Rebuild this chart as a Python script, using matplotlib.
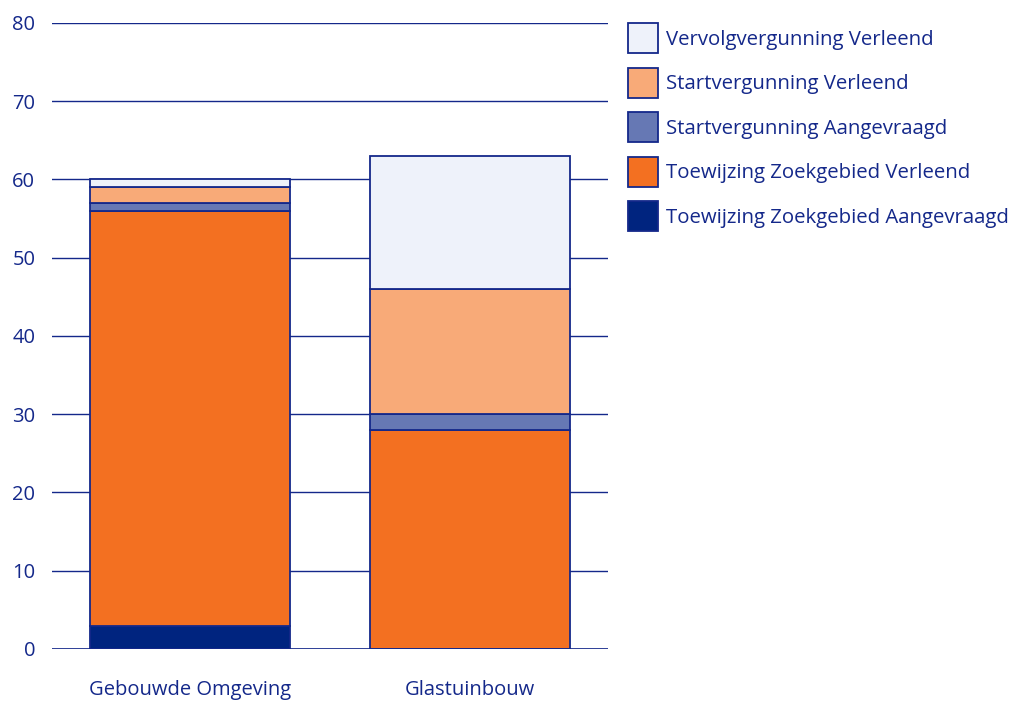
import numpy as np
import matplotlib.pyplot as plt

plt.rcParams['font.family'] = ['Open Sans', 'DejaVu Sans']

categories = ['Gebouwde Omgeving', 'Glastuinbouw']
series = ['Toewijzing Zoekgebied Aangevraagd', 'Toewijzing Zoekgebied Verleend',
          'Startvergunning Aangevraagd', 'Startvergunning Verleend',
          'Vervolgvergunning Verleend']
tz_aangevraagd = [3, 0]
tz_verleend = [53, 28]
sv_aangevraagd = [1, 2]
sv_verleend = [2, 16]
vv_verleend = [1, 17]
values = [tz_aangevraagd, tz_verleend, sv_aangevraagd, sv_verleend, vv_verleend]
colors = ['#00247F', '#F37021', '#6678B4', '#F8AA78', '#EEF2FA']

navy = '#14288A'

fig = plt.figure(figsize=(10.16, 7.02), dpi=100)
ax = fig.add_axes([0.0512, 0.0755, 0.547, 0.892])

x = np.arange(len(categories))
bottom = np.zeros(len(categories))
handles = []
for name, vals, c in zip(series, values, colors):
    vals = np.array(vals, dtype=float)
    b = ax.bar(x, vals, 0.714, bottom=bottom, color=c, edgecolor=navy,
               linewidth=1.3, label=name, zorder=3)
    handles.append(b)
    bottom += vals

ax.set_xlim(-0.493, 1.493)
ax.set_ylim(0, 80)
ax.set_yticks(range(0, 81, 10))
ax.set_xticks(x)
ax.set_xticklabels(categories)
ax.grid(axis='y', color=navy, linewidth=1, zorder=0)
ax.axhline(0, color=navy, linewidth=1.2, zorder=4)
for s in ax.spines.values():
    s.set_visible(False)
ax.tick_params(axis='both', length=0, labelsize=14.5, labelcolor=navy)
ax.tick_params(axis='y', pad=12)
ax.tick_params(axis='x', pad=22)

# legend: square handles ~30px, rows ~44px apart
leg = ax.legend(handles[::-1], series[::-1], loc='upper left',
                bbox_to_anchor=(0.618, 0.967), bbox_transform=fig.transFigure,
                frameon=False, fontsize=14.7, handlelength=1.47, handleheight=1.9,
                handletextpad=0.4, labelspacing=0.7, borderaxespad=0,
                borderpad=0)
for t in leg.get_texts():
    t.set_color(navy)

fig.savefig('out.png', dpi=100)
